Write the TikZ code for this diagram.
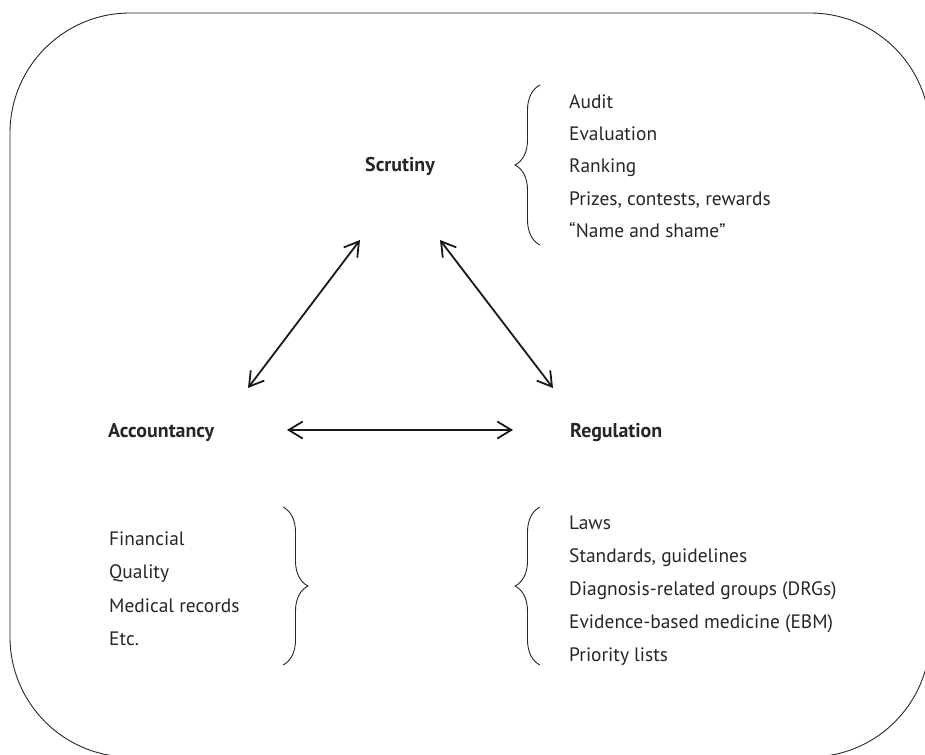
\documentclass[tikz,border=0pt]{standalone}
\usepackage{fontspec}
\setmainfont{PT Sans}
\usetikzlibrary{arrows.meta,decorations.pathreplacing}

\begin{document}
\begin{tikzpicture}[x=1bp,y=-1bp]
\tikzstyle{head}=[font=\bfseries\fontsize{20}{22}\selectfont,text=black!85,anchor=base west,inner sep=0pt]
\tikzstyle{item}=[font=\fontsize{19.5}{22}\selectfont,text=black!85,anchor=base west,inner sep=0pt]
\tikzstyle{link}=[line width=1.8bp,black!90,{Straight Barb[length=14bp,width=17bp]}-{Straight Barb[length=14bp,width=17bp]}]
\tikzstyle{brace}=[line width=0.9bp,black!85,decorate,decoration={brace,amplitude=25bp}]
\useasboundingbox (0,0) rectangle (925,755);
\clip (0,0) rectangle (925,755);
\draw[line width=0.9bp,black!85,rounded corners=120bp] (10,13) rectangle (930,757);

\node[head] (scr) at (365,171) {Scrutiny};
\node[head] (acc) at (108,437) {Accountancy};
\node[head] (reg) at (570,437) {Regulation};

\foreach \name/\ypos/\txt in {
	s1/108/Audit,
	s2/140/Evaluation,
	s3/172/Ranking,
	s4/205/{Prizes, contests, rewards},
	s5/237/{“Name and shame”}}
	\node[item] (\name) at (569,\ypos) {\txt};
\foreach \name/\ypos/\txt in {
	a1/545/Financial,
	a2/578/Quality,
	a3/612/Medical records,
	a4/645/Etc.}
	\node[item] (\name) at (109,\ypos) {\txt};
\foreach \name/\ypos/\txt in {
	r1/529/Laws,
	r2/562/{Standards, guidelines},
	r3/595/Diagnosis-related groups (DRGs),
	r4/628/Evidence-based medicine (EBM),
	r5/661/Priority lists}
	\node[item] (\name) at (569,\ypos) {\txt};

\coordinate (accup) at (248,388);
\coordinate (scrleft) at (360,240);
\coordinate (scrright) at (440,240);
\coordinate (regup) at (553,388);
\coordinate (accright) at (287,430);
\coordinate (regleft) at (513,430);
\draw[link] (accup) -- (scrleft);
\draw[link] (scrright) -- (regup);
\draw[link] (accright) -- (regleft);

\draw[brace] (540,245) -- (540,85);
\draw[brace] (283,507) -- (283,665);
\draw[brace] (540,665) -- (540,507);
\end{tikzpicture}
\end{document}
